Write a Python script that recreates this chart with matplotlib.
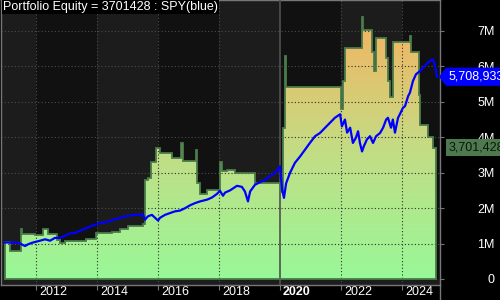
import numpy as np
import matplotlib
matplotlib.use('Agg')
import matplotlib.pyplot as plt
from matplotlib.colors import LinearSegmentedColormap
from matplotlib.patches import PathPatch
from matplotlib.path import Path
from matplotlib.transforms import blended_transform_factory, ScaledTranslation

plt.rcParams['font.family'] = ['Liberation Sans', 'DejaVu Sans']

# portfolio equity, step changes (decimal year, millions)
eq_year = [2010.98, 2011.15, 2011.51, 2011.54, 2011.97, 2012.23, 2012.39, 2012.69,
           2012.79, 2012.95, 2013.64, 2013.97, 2014.20, 2014.49, 2014.75, 2015.02,
           2015.51, 2015.57, 2015.67, 2015.77, 2015.93, 2016.07, 2016.46, 2016.75,
           2016.82, 2017.25, 2017.28, 2017.38, 2017.61, 2018.03, 2018.10, 2018.26,
           2018.52, 2019.18, 2020.00, 2020.10, 2020.16, 2020.20, 2022.00, 2022.07,
           2022.13, 2022.69, 2022.72, 2023.02, 2023.08, 2023.15, 2023.48, 2023.54,
           2023.61, 2023.70, 2024.26, 2024.30, 2024.56, 2024.59, 2024.85, 2025.02]
eq_val = [1.03, 0.79, 1.41, 1.27, 1.23, 1.41, 1.28, 1.10,
          1.02, 1.06, 1.13, 1.31, 1.29, 1.33, 1.40, 1.50,
          1.55, 2.80, 2.86, 3.30, 3.70, 3.57, 3.42, 3.85,
          3.32, 3.63, 2.70, 2.40, 2.50, 3.30, 3.04, 3.09,
          3.00, 2.72, 2.45, 4.27, 6.30, 5.42, 4.80, 5.58,
          6.53, 7.40, 7.03, 6.40, 5.86, 6.80, 6.25, 5.58,
          5.15, 6.68, 6.85, 6.40, 5.20, 4.36, 4.00, 3.70]
eq_end = 2025.11

# SPY scaled to the same start (decimal year, millions)
spy_year = [2010.98, 2011.31, 2011.48, 2011.64, 2011.74, 2011.90, 2012.13, 2012.30,
            2012.46, 2012.62, 2012.79, 2012.95, 2013.11, 2013.28, 2013.44, 2013.61,
            2013.77, 2013.93, 2014.10, 2014.26, 2014.43, 2014.59, 2014.75, 2014.92,
            2015.08, 2015.25, 2015.51, 2015.57, 2015.67, 2015.80, 2016.00, 2016.07,
            2016.23, 2016.39, 2016.56, 2016.72, 2016.89, 2017.05, 2017.21, 2017.38,
            2017.61, 2017.77, 2017.93, 2018.03, 2018.13, 2018.20, 2018.36, 2018.59,
            2018.75, 2018.85, 2018.95, 2019.02, 2019.18, 2019.34, 2019.51, 2019.67,
            2019.84, 2020.00, 2020.07, 2020.13, 2020.20, 2020.33, 2020.49, 2020.66,
            2020.82, 2020.98, 2021.15, 2021.31, 2021.48, 2021.64, 2021.80, 2021.97,
            2022.03, 2022.13, 2022.20, 2022.30, 2022.39, 2022.49, 2022.56, 2022.62,
            2022.69, 2022.75, 2022.85, 2022.95, 2023.05, 2023.15, 2023.28, 2023.38,
            2023.48, 2023.54, 2023.64, 2023.70, 2023.77, 2023.87, 2023.93, 2024.03,
            2024.10, 2024.20, 2024.26, 2024.36, 2024.46, 2024.59, 2024.75, 2024.92,
            2025.02, 2025.08, 2025.15]
spy_val = [1.03, 1.03, 1.00, 0.93, 0.98, 1.03, 1.08, 1.12,
           1.08, 1.16, 1.16, 1.22, 1.29, 1.30, 1.36, 1.42,
           1.48, 1.53, 1.58, 1.60, 1.64, 1.69, 1.72, 1.77,
           1.79, 1.81, 1.82, 1.67, 1.77, 1.81, 1.65, 1.73,
           1.81, 1.86, 1.91, 1.93, 2.00, 2.08, 2.14, 2.19,
           2.24, 2.30, 2.40, 2.49, 2.35, 2.44, 2.50, 2.63,
           2.60, 2.47, 2.19, 2.47, 2.66, 2.73, 2.80, 2.90,
           3.00, 3.18, 2.52, 2.29, 2.70, 3.00, 3.28, 3.46,
           3.65, 3.84, 4.03, 4.12, 4.27, 4.41, 4.55, 4.65,
           4.31, 4.50, 4.13, 4.27, 3.84, 3.99, 4.17, 3.84,
           3.60, 3.75, 3.94, 4.03, 3.84, 4.03, 4.12, 4.27,
           4.50, 4.55, 4.27, 4.50, 4.13, 4.55, 4.65, 4.83,
           4.88, 5.16, 5.26, 5.59, 5.78, 5.87, 6.02, 6.16,
           6.20, 6.02, 5.71]

last_equity = 3701428
last_spy = 5708933
title = 'Portfolio Equity = 3701428 : SPY(blue)'
year_ticks = [2012, 2014, 2016, 2018, 2020, 2022, 2024]
y_ticks = [0, 1, 2, 3, 4, 5, 6, 7]
y_labels = ['0', '1M', '2M', '3M', '4M', '5M', '6M', '7M']

x_lo, x_hi = 2010.852, 2025.246
y_lo, y_hi = -0.17, 7.875

fig = plt.figure(figsize=(5, 3), dpi=100, facecolor='black')
ax = fig.add_axes([1 / 500, 15 / 300, 439 / 500, 285 / 300])
ax.set_facecolor('#1c1c1c')
ax.set_xlim(x_lo, x_hi)
ax.set_ylim(y_lo, y_hi)

# alternating two-year background bands
edges = [x_lo] + year_ticks + [x_hi]
for i in range(len(edges) - 1):
    c = '#1c1c1c' if i % 2 == 0 else '#111111'
    ax.axvspan(edges[i], edges[i + 1], color=c, lw=0, zorder=0)
ax.axhspan(y_lo, 0, color='#1d1d1d', lw=0, zorder=0.5)

# grid behind the fill (seen on the dark background)
grid_light = '#4c4c4c'
grid_dark = '#2e2e2e'
dots = (0, (1, 2))
for v in y_ticks[1:]:
    ax.axhline(v, color=grid_light, lw=0.8, ls=dots, zorder=1)
for yr in year_ticks:
    if yr == 2020:
        continue
    ax.axvline(yr, color=grid_light, lw=0.8, ls=dots, zorder=1)

# equity area with vertical gradient
xs = np.array(eq_year + [eq_end])
ys = np.array(eq_val + [eq_val[-1]])
poly = ax.fill_between(xs, 0, ys, step='post', facecolor='none', edgecolor='none')
path = poly.get_paths()[0]

cmap = LinearSegmentedColormap.from_list('eq', ['#98f898', '#c4dc84', '#f6b260'])
grad = np.linspace(0, 1, 256).reshape(-1, 1)
im = ax.imshow(grad, cmap=cmap, origin='lower', aspect='auto',
               extent=[x_lo, x_hi, 0, 7.4], zorder=2, interpolation='bilinear')
im.set_clip_path(path, transform=ax.transData)
ax.set_xlim(x_lo, x_hi)
ax.set_ylim(y_lo, y_hi)

# grid over the fill (dark dots)
for v in y_ticks[1:]:
    ln = ax.axhline(v, color=grid_dark, lw=0.8, ls=dots, zorder=3)
    ln.set_clip_path(path, transform=ax.transData)
for yr in year_ticks:
    if yr == 2020:
        continue
    ln = ax.axvline(yr, color=grid_dark, lw=0.8, ls=dots, zorder=3)
    ln.set_clip_path(path, transform=ax.transData)
ax.axvline(2020, color='#505050', lw=1.2, zorder=3)

ax.add_patch(PathPatch(path, facecolor='none', edgecolor='#4a7c4a', lw=1.3, zorder=4))

# SPY line
ax.plot(spy_year, spy_val, color='#0000ff', lw=1.6, zorder=5)

# axes styling
for side in ['left', 'right', 'bottom', 'top']:
    ax.spines[side].set_color('#777777')
    ax.spines[side].set_linewidth(1)
ax.yaxis.tick_right()
ax.set_yticks(y_ticks)
ax.set_yticklabels(y_labels)
ax.tick_params(axis='y', colors='#777777', labelcolor='white', length=3,
               pad=36.5, labelsize=9)
for lab in ax.get_yticklabels():
    lab.set_ha('right')

ax.set_xticks(year_ticks)
ax.set_xticklabels([str(y) for y in year_ticks])
ax.tick_params(axis='x', colors='#777777', labelcolor='white', length=3.5,
               pad=-2.5, labelsize=9, direction='out')
shift = ScaledTranslation(3 / 100, 0, fig.dpi_scale_trans)
for lab in ax.get_xticklabels():
    lab.set_ha('left')
    lab.set_transform(lab.get_transform() + shift)
    if lab.get_text() == '2020':
        lab.set_fontweight('bold')

# right spine extends to the bottom of the figure
fig.add_artist(plt.Line2D([440 / 500, 440 / 500], [0, 15 / 300],
                          transform=fig.transFigure, color='#777777', lw=1))

# title
ax.text(0.004, 0.998, title, transform=ax.transAxes, ha='left', va='top',
        color='white', fontsize=9, zorder=10,
        bbox=dict(boxstyle='square,pad=0.1', fc='black', ec='none'))


def tag_box(x0, y0, width, height, mutation_size):
    pad = 0.25 * mutation_size
    x0, y0 = x0 - pad, y0 - pad
    x1, y1 = x0 + width + 2 * pad, y0 + height + 2 * pad
    tip = (y1 - y0) * 0.38
    ym = (y0 + y1) / 2
    return Path([(x0, y0), (x1, y0), (x1, y1), (x0, y1), (x0 - tip, ym), (x0, y0)],
                [Path.MOVETO, Path.LINETO, Path.LINETO, Path.LINETO, Path.LINETO,
                 Path.CLOSEPOLY])


side = blended_transform_factory(ax.transAxes, ax.transData)
ax.text(1.0205, last_spy / 1e6, f'{last_spy:,}', transform=side, ha='left',
        va='center', color='white', fontsize=9, clip_on=False, zorder=10,
        bbox=dict(boxstyle=tag_box, fc='#0000ff', ec='none'))
ax.text(1.0205, last_equity / 1e6, f'{last_equity:,}', transform=side, ha='left',
        va='center', color='#111111', fontsize=9, clip_on=False, zorder=10,
        bbox=dict(boxstyle='square,pad=0.2', fc='#4d7a4d', ec='none'))

fig.savefig('out.png', dpi=100, facecolor='black')
